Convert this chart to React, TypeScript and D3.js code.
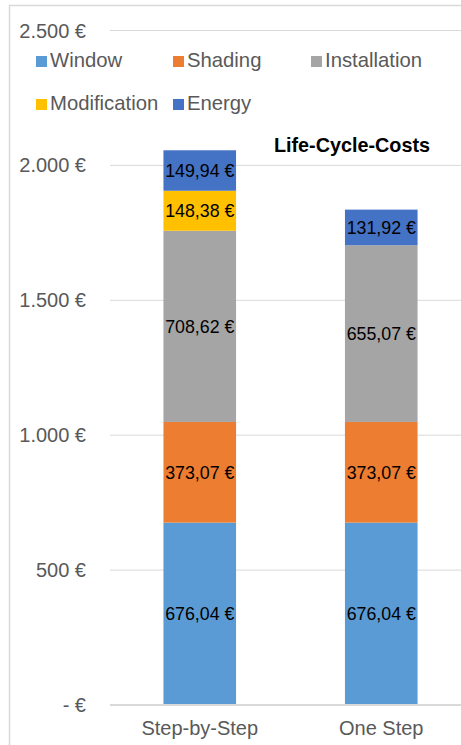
import React, { useEffect, useRef } from 'react';
import * as d3 from 'd3';

const categories = ['Step-by-Step', 'One Step'];
const seriesNames = ['Window', 'Shading', 'Installation', 'Modification', 'Energy'];
const seriesColors = ['#5B9BD5', '#ED7D31', '#A5A5A5', '#FFC000', '#4472C4'];
const windowValues = [676.04, 676.04];
const shadingValues = [373.07, 373.07];
const installationValues = [708.62, 655.07];
const modificationValues = [148.38, 0];
const energyValues = [149.94, 131.92];
const yTicks = [0, 500, 1000, 1500, 2000, 2500];

const W = 461;
const H = 745;

const fmt = (v: number) => {
  if (v === 0) return '- €';
  const s = d3.format(',.2f')(v); // 1,234.56
  return s.replace(/,/g, '#').replace('.', ',').replace(/#/g, '.') + ' €';
};
const fmtAxis = (v: number) => {
  if (v === 0) return '- €';
  return d3.format(',')(v).replace(/,/g, '.') + ' €';
};

const App = () => {
  const svgRef = useRef<SVGSVGElement>(null);

  useEffect(() => {
    document.body.style.margin = '0';
    const svg = d3.select(svgRef.current);
    svg.selectAll('*').remove();

    const font = '"Liberation Sans", Arial, sans-serif';

    // cadre
    svg.append('rect')
      .attr('x', 9.5).attr('y', 5.5)
      .attr('width', 600).attr('height', 800)
      .attr('fill', 'white')
      .attr('stroke', '#D9D9D9')
      .attr('stroke-width', 1.5);

    const y = d3.scaleLinear().domain([0, 2500]).range([705, 30.5]);
    const x = d3.scaleBand().domain(categories).range([109, 472]).paddingInner(0.6).paddingOuter(0.3);

    // grille
    svg.selectAll('line.grid')
      .data(yTicks.filter(d => d > 0))
      .enter()
      .append('line')
      .attr('x1', 110).attr('x2', W)
      .attr('y1', d => y(d)).attr('y2', d => y(d))
      .attr('stroke', '#D9D9D9')
      .attr('stroke-width', 1);

    svg.selectAll('text.ytick')
      .data(yTicks)
      .enter()
      .append('text')
      .attr('x', 86)
      .attr('y', d => y(d))
      .attr('dy', '0.35em')
      .attr('text-anchor', 'end')
      .attr('font-family', font)
      .attr('font-size', '20px')
      .attr('fill', '#595959')
      .text(d => fmtAxis(d));

    // barres
    const rows = categories.map((c, i) => ({
      cat: c,
      Window: windowValues[i],
      Shading: shadingValues[i],
      Installation: installationValues[i],
      Modification: modificationValues[i],
      Energy: energyValues[i],
    }));
    const stack = d3.stack<any>().keys(seriesNames)(rows);

    stack.forEach((layer, li) => {
      const g = svg.append('g');
      g.selectAll('rect')
        .data(layer.filter(d => d[1] - d[0] > 0))
        .enter()
        .append('rect')
        .attr('x', d => x(d.data.cat)!)
        .attr('width', x.bandwidth())
        .attr('y', d => y(d[1]))
        .attr('height', d => y(d[0]) - y(d[1]))
        .attr('fill', seriesColors[li]);
      g.selectAll('text')
        .data(layer.filter(d => d[1] - d[0] > 0))
        .enter()
        .append('text')
        .attr('x', d => x(d.data.cat)! + x.bandwidth() / 2)
        .attr('y', d => (y(d[0]) + y(d[1])) / 2)
        .attr('dy', '0.35em')
        .attr('text-anchor', 'middle')
        .attr('font-family', font)
        .attr('font-size', '17.8px')
        .attr('fill', '#000')
        .text(d => fmt(d[1] - d[0]));
    });

    // axe
    svg.append('line')
      .attr('x1', 110).attr('x2', W)
      .attr('y1', y(0)).attr('y2', y(0))
      .attr('stroke', '#D9D9D9')
      .attr('stroke-width', 2);

    svg.selectAll('text.xtick')
      .data(categories)
      .enter()
      .append('text')
      .attr('x', d => x(d)! + x.bandwidth() / 2)
      .attr('y', 735)
      .attr('text-anchor', 'middle')
      .attr('font-family', font)
      .attr('font-size', '20px')
      .attr('fill', '#595959')
      .text(d => d);

    // legende
    const legendPos = [[36, 67], [173, 67], [311, 67], [36, 110], [173, 110]];
    seriesNames.forEach((name, i) => {
      const [lx, ly] = legendPos[i];
      svg.append('rect')
        .attr('x', lx).attr('y', ly - 11)
        .attr('width', 11).attr('height', 11)
        .attr('fill', seriesColors[i]);
      svg.append('text')
        .attr('x', lx + 14).attr('y', ly)
        .attr('font-family', font)
        .attr('font-size', '20.3px')
        .attr('fill', '#595959')
        .text(name);
    });

    // titre
    svg.append('text')
      .attr('x', 352).attr('y', 152)
      .attr('text-anchor', 'middle')
      .attr('font-family', font)
      .attr('font-size', '19.8px')
      .attr('font-weight', 'bold')
      .attr('fill', '#000')
      .text('Life-Cycle-Costs');
  }, []);

  return <svg ref={svgRef} width={W} height={H} style={{ display: 'block' }}></svg>;
};

export default App;
